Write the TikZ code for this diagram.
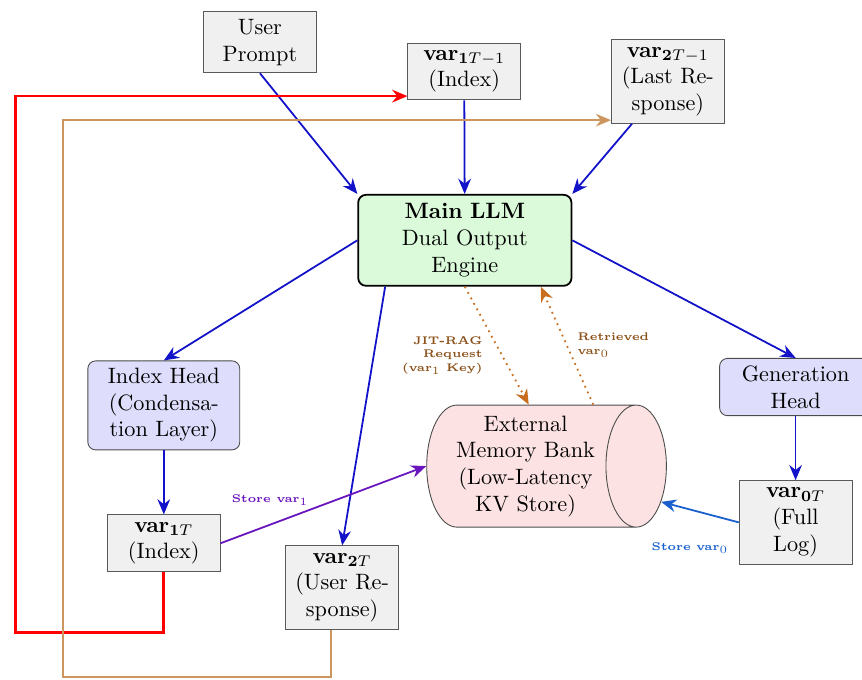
\documentclass[tikz,border=0pt]{standalone}
\usepackage{amsmath,amssymb}
\usepackage{xcolor}
\usepackage{tikz}
\usetikzlibrary{arrows.meta,positioning,shapes.geometric}
\definecolor{boxfill}{RGB}{240,240,240}
\definecolor{llmfill}{RGB}{218,250,218}
\definecolor{headfill}{RGB}{222,222,252}
\definecolor{memfill}{RGB}{252,226,226}
\definecolor{flow}{RGB}{18,18,200}
\definecolor{back}{RGB}{205,150,95}
\definecolor{rag}{RGB}{200,110,30}
\definecolor{ragtext}{RGB}{140,80,25}
\definecolor{storeA}{RGB}{105,20,190}
\definecolor{storeB}{RGB}{25,95,205}
\newcommand{\Var}[2]{$\mathbf{var}_{\mathbf{#1}#2}$}

\begin{document}
\begin{tikzpicture}[
  box/.style={draw=black!65,fill=boxfill,align=center,text width=1.55cm,
              inner sep=3.3pt},
  head/.style={draw=black!70,fill=headfill,rounded corners=3.5pt,
               align=center,text width=2.17cm,inner sep=3.3pt},
  llmbox/.style={draw=black,thick,fill=llmfill,rounded corners=3.5pt,
                 align=center,text width=2.95cm,inner xsep=6pt,inner ysep=4pt},
  mem/.style={cylinder,draw=black!70,fill=memfill,shape aspect=0.55,
              minimum width=1.93cm,minimum height=3.79cm,align=center,inner sep=2pt},
  fl/.style={draw=flow,thick,-{Stealth[length=2.4mm,width=2mm]}},
  rq/.style={draw=rag,thick,dotted,-{Stealth[length=2.4mm,width=2mm]}},
  st/.style={thick,-{Stealth[length=2.4mm,width=2mm]}},
  fb/.style={-{Stealth[length=2.4mm,width=2mm]}},
  lbl/.style={font=\tiny\bfseries,inner sep=1pt}]

\useasboundingbox (0,0) rectangle (13.63,10.74);

\node[box] (up) at (4.11,10.07) {User\\Prompt};
\node[box] (v1p) at (7.34,9.61) {\Var{1}{T-1}\\(Index)};
\node[box] (v2p) at (10.56,9.45) {\Var{2}{T-1}\\(Last Re-\\sponse)};

\node[llmbox] (llm) at (7.35,6.94) {\textbf{Main LLM}\\Dual Output\\Engine};

\node[head] (ih) at (2.59,4.33) {Index Head\\(Condensa-\\tion Layer)};
\node[head] (gh) at (12.58,4.62) {Generation\\Head};

\node[box] (v1t) at (2.59,2.15) {\Var{1}{T}\\(Index)};
\node[box] (v2t) at (5.41,1.45) {\Var{2}{T}\\(User Re-\\sponse)};
\node[box] (v0t) at (12.58,2.48) {\Var{0}{T}\\(Full\\Log)};

\node[mem] (bank) at (8.31,3.37) {External\\Memory Bank\\(Low-Latency\\KV Store)};

\coordinate (rl) at (0.25,0.74);
\coordinate (tl) at (1.0,0.03);

% forward pass
\draw[fl] (up.south) -- (llm.north west);
\draw[fl] (v1p) -- (llm);
\draw[fl] (v2p) -- (llm.north east);
\draw[fl] (llm.west) -- (ih.north);
\draw[fl] (llm.east) -- (gh.north);
\draw[fl] ([xshift=4.4mm]llm.south west) -- (v2t.north);
\draw[fl] (ih) -- (v1t);
\draw[fl] (gh) -- (v0t);

% retrieval
\draw[rq] (llm.south) -- ([xshift=0.5mm]bank.north);
\draw[rq] ([xshift=10.7mm]bank.north) -- ([xshift=12mm]llm.south);
\node[lbl,text=ragtext,align=right,anchor=east] (jit) at (7.67,5.12)
  {JIT-RAG\\Request\\(var$_1$ Key)};
\node[lbl,text=ragtext,align=left,anchor=west] (ret) at (9.09,5.28)
  {Retrieved\\var$_0$};

% storage
\draw[st,storeA] (v1t.east) -- (bank.west);
\draw[st,storeB] (v0t.west) -- (bank);
\node[lbl,text=storeA] (sv1) at (4.27,2.83) {Store var$_1$};
\node[lbl,text=storeB] (sv0) at (10.91,2.07) {Store var$_0$};

% feedback to next turn
\draw[fb,red,very thick] (v1t.south) |- (rl) |- ([yshift=-3.9mm]v1p.west);
\draw[fb,back,thick] ([xshift=-1.8mm]v2t.south) |- (tl) |- ([yshift=-6.1mm]v2p.west);
\end{tikzpicture}
\end{document}
